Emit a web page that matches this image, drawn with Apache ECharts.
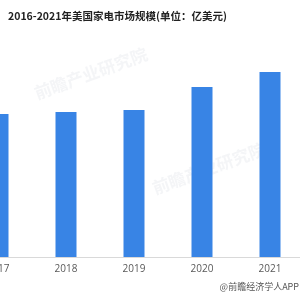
<!DOCTYPE html>
<html>
<head>
<meta charset="utf-8">
<script src="https://cdn.jsdelivr.net/npm/echarts@6/dist/echarts.min.js"></script>
<style>
  html, body { margin: 0; padding: 0; background: #fff; overflow: hidden; }
  #wrap { width: 300px; height: 300px; overflow: hidden; position: relative; }
  #chart { width: 409px; height: 300px; position: absolute; left: -104px; top: 0; }
</style>
</head>
<body>
<div id="wrap"><div id="chart"></div></div>
<script>
// 美国家电市场规模（单位：亿美元），数值按图中柱高估读
var years = ['2016', '2017', '2018', '2019', '2020', '2021'];
var marketSize = [1400, 1430, 1450, 1470, 1700, 1850];

// 原图左侧被裁切，画布向左偏移 104px
var shift = 104;

var chart = echarts.init(document.getElementById('chart'));
var option = {
  animation: false,
  title: {
    text: '2016-2021年美国家电市场规模(单位：亿美元)',
    left: shift + 3,
    top: 6,
    textStyle: {
      fontFamily: 'Noto Sans CJK SC',
      fontSize: 10.5,
      fontWeight: 'bold',
      color: '#222'
    }
  },
  graphic: [
    {
      type: 'text',
      right: 6,
      top: 282,
      style: {
        text: '@前瞻经济学人APP',
        fill: '#555',
        font: '9px "Noto Sans CJK SC"'
      }
    },
    {
      type: 'text',
      left: shift + 32,
      top: 45,
      rotation: 0.35,
      style: {
        text: '前瞻产业研究院',
        fill: 'rgba(200,205,215,0.2)',
        font: 'bold 17px "Noto Sans CJK SC"'
      }
    },
    {
      type: 'text',
      left: shift + 150,
      top: 140,
      rotation: 0.35,
      style: {
        text: '前瞻产业研究院',
        fill: 'rgba(200,205,215,0.2)',
        font: 'bold 17px "Noto Sans CJK SC"'
      }
    }
  ],
  grid: {
    left: 0,
    right: 1,
    top: 57,
    bottom: 43
  },
  xAxis: {
    type: 'category',
    data: years,
    axisLine: { lineStyle: { color: '#d9d9d9' } },
    axisTick: { show: false },
    axisLabel: {
      color: '#595959',
      fontSize: 10,
      margin: 7,
      fontFamily: 'Open Sans'
    }
  },
  yAxis: {
    type: 'value',
    min: 0,
    max: 2000,
    show: false,
    splitLine: { show: false }
  },
  series: [{
    type: 'bar',
    data: marketSize,
    barWidth: 21,
    itemStyle: { color: '#3884e5' }
  }]
};
chart.setOption(option);
</script>
</body>
</html>
